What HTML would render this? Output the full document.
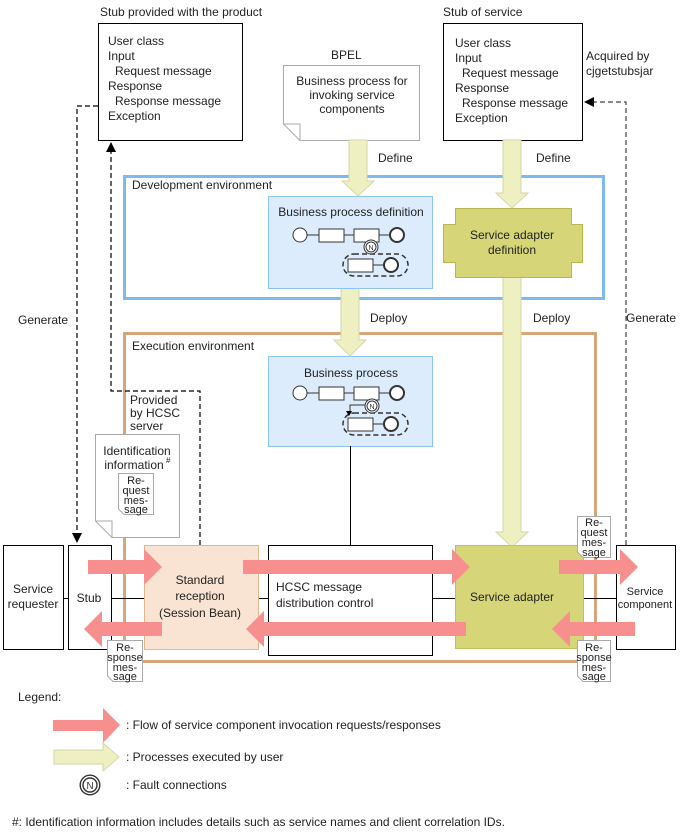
<!DOCTYPE html>
<html><head><meta charset="utf-8"><style>
body{margin:0;background:#fff}
svg{display:block;font-family:"Liberation Sans",Arial,sans-serif;font-size:12px;fill:#222}
</style></head><body>
<svg width="681" height="833" viewBox="0 0 681 833" xmlns="http://www.w3.org/2000/svg">
<defs>
<marker id="ah" markerWidth="10" markerHeight="10" refX="9" refY="5" orient="auto" markerUnits="userSpaceOnUse"><path d="M0,0 L10,5 L0,10 z" fill="#000"/></marker>
<g id="fault"><circle r="7" fill="#fff" stroke="#333" stroke-width="1"/><circle r="5" fill="none" stroke="#333" stroke-width="1"/><text x="0" y="3" font-size="7" text-anchor="middle" fill="#333">N</text></g>
</defs>

<!-- top titles -->
<text x="100" y="16">Stub provided with the product</text>
<text x="443" y="16">Stub of service</text>
<rect x="98.5" y="23.5" width="144" height="117" fill="#fff" stroke="#000"/>
<text x="108" y="45">User class</text><text x="108" y="60">Input</text><text x="115" y="75">Request message</text><text x="108" y="90">Response</text><text x="115" y="105">Response message</text><text x="108" y="120">Exception</text>
<rect x="443.5" y="23.5" width="139" height="117" fill="#fff" stroke="#000"/>
<text x="455" y="47">User class</text><text x="455" y="62">Input</text><text x="462" y="77">Request message</text><text x="455" y="92">Response</text><text x="462" y="107">Response message</text><text x="455" y="122">Exception</text>
<text x="586" y="60">Acquired by</text><text x="586" y="75">cjgetstubsjar</text>

<!-- BPEL -->
<text x="331" y="59">BPEL</text>
<path d="M283.5,65.5 H419.5 V140.5 H300 L283.5,124 Z" fill="#fff" stroke="#aaa"/>
<path d="M283.5,124 L300,124 L300,140.5" fill="none" stroke="#aaa"/>
<text x="352" y="85" text-anchor="middle">Business process for</text>
<text x="352" y="99" text-anchor="middle">invoking service</text>
<text x="352" y="113" text-anchor="middle">components</text>

<!-- Dev env -->
<rect x="124.5" y="176.5" width="479" height="122" fill="none" stroke="#80b8f0" stroke-width="3"/>
<text x="132" y="189">Development environment</text>

<!-- Exec env -->
<rect x="124.5" y="333.5" width="471" height="328" fill="none" stroke="#d4a67a" stroke-width="3"/>
<text x="132" y="350">Execution environment</text>

<!-- cream arrows -->
<g fill="#eff0c2" stroke="#d6d6a6">
<path d="M349,140 H367 V181 H374 L358,196 L342,181 H349 Z"/>
<path d="M503,140 H521 V193 H528 L512,208 L496,193 H503 Z"/>
<path d="M341,288 H359 V340 H366 L350,356 L334,340 H341 Z"/>
<path d="M503,277 H521 V532 H528 L512,547 L496,532 H503 Z"/>
</g>
<text x="378" y="162">Define</text>
<text x="536" y="162">Define</text>
<text x="370" y="322">Deploy</text>
<text x="533" y="322">Deploy</text>

<!-- BP definition -->
<rect x="268.5" y="196.5" width="164" height="92" fill="#dcecfc" stroke="#8ec4f0"/>
<text x="351" y="216" text-anchor="middle">Business process definition</text>
<g stroke="#333" fill="#fff">
<line x1="307" y1="235" x2="394" y2="235"/>
<circle cx="300" cy="235" r="7"/>
<rect x="319" y="229" width="25" height="13"/>
<rect x="354" y="229" width="25" height="13"/>
<circle cx="397" cy="235" r="7" stroke-width="2"/>
<rect x="343" y="254" width="65" height="22" rx="11" fill="none" stroke-dasharray="5,3" stroke-width="1.5"/>
<line x1="373" y1="265" x2="388" y2="265"/>
<rect x="348" y="259" width="25" height="13"/>
<circle cx="391" cy="265" r="7" stroke-width="2"/>
</g>
<use href="#fault" x="371" y="247"/>

<!-- Service adapter definition -->
<path d="M455.5,208.5 H571.5 V224.5 H582.5 V262.5 H571.5 V277.5 H455.5 V262.5 H443.5 V224.5 H455.5 Z" fill="#d6d678" stroke="#b8b850"/>
<text x="512" y="239" text-anchor="middle">Service adapter</text>
<text x="512" y="254" text-anchor="middle">definition</text>

<!-- Business process -->
<rect x="268.5" y="356.5" width="164" height="90" fill="#dcecfc" stroke="#8ec4f0"/>
<text x="351" y="377" text-anchor="middle">Business process</text>
<g stroke="#333" fill="#fff">
<line x1="307" y1="393" x2="394" y2="393"/>
<circle cx="300" cy="393" r="7"/>
<rect x="319" y="387" width="25" height="13"/>
<rect x="354" y="387" width="25" height="13"/>
<circle cx="397" cy="393" r="7" stroke-width="2"/>
<rect x="343" y="413" width="65" height="22" rx="11" fill="none" stroke-dasharray="5,3" stroke-width="1.5"/>
<line x1="373" y1="424" x2="388" y2="424"/>
<rect x="348" y="418" width="25" height="13"/>
<circle cx="391" cy="424" r="7" stroke-width="2"/>
<path d="M365,405 H350 V414" fill="none"/>
</g>
<path d="M346,411 L352,411 L349,416 Z" fill="#000"/>
<use href="#fault" x="372" y="406"/>

<!-- lines -->
<line x1="350.5" y1="446" x2="350.5" y2="545" stroke="#000"/>
<line x1="63" y1="598.5" x2="616" y2="598.5" stroke="#000"/>

<!-- dashed connectors -->
<g fill="none" stroke="#000" stroke-dasharray="5,3" stroke-width="1.2">
<path d="M98,106 H77 V542" marker-end="url(#ah)"/>
<path d="M200,545 V391 H111 V143" marker-end="url(#ah)"/>
<path d="M626,545 V102 H585" marker-end="url(#ah)" stroke="#444"/>
</g>
<text x="18" y="324">Generate</text>
<text x="626" y="322">Generate</text>
<text x="130" y="404">Provided</text><text x="130" y="417">by HCSC</text><text x="130" y="430">server</text>

<!-- Identification info -->
<path d="M95.5,434.5 H179.5 V537.5 H112 L95.5,521 Z" fill="#fff" stroke="#aaa"/>
<path d="M95.5,521 H112 V537.5" fill="none" stroke="#aaa"/>
<text x="137" y="455" text-anchor="middle">Identification</text>
<text x="134" y="469" text-anchor="middle">information</text><text x="166" y="463" font-size="8">#</text>
<path d="M118.5,473.5 H153.5 V514.5 H124 L118.5,509 Z" fill="#fff" stroke="#aaa"/>
<g font-size="11" text-anchor="middle"><text x="136" y="484">Re-</text><text x="136" y="494">quest</text><text x="136" y="504">mes-</text><text x="136" y="513">sage</text></g>

<!-- bottom boxes -->
<rect x="3.5" y="545.5" width="60" height="104" fill="#fff" stroke="#000"/>
<text x="33" y="593" text-anchor="middle">Service</text><text x="33" y="608" text-anchor="middle">requester</text>
<rect x="68.5" y="545.5" width="43" height="104" fill="#fff" stroke="#000"/>
<text x="89" y="602" text-anchor="middle">Stub</text>
<rect x="144.5" y="545.5" width="114" height="104" fill="#f9e4d3" stroke="#e0b88e"/>
<text x="200" y="584" text-anchor="middle">Standard</text><text x="200" y="600" text-anchor="middle">reception</text><text x="200" y="617" text-anchor="middle">(Session Bean)</text>
<rect x="268.5" y="545.5" width="164" height="110" fill="#fff" stroke="#000"/>
<text x="276" y="591">HCSC message</text><text x="276" y="607">distribution control</text>
<rect x="455.5" y="545.5" width="128" height="103" fill="#d6d678" stroke="#c0c060"/>
<text x="512" y="601" text-anchor="middle">Service adapter</text>
<rect x="616.5" y="545.5" width="59" height="104" fill="#fff" stroke="#000"/>
<text x="645" y="595" text-anchor="middle" font-size="11">Service</text><text x="645" y="608" text-anchor="middle" font-size="11">component</text>

<!-- pink arrows -->
<g fill="#f78f8f">
<path d="M88,560 H144 V549 L162,567 L144,585 V574 H88 Z"/>
<path d="M243,560 H452 V549 L470,567 L452,585 V574 H243 Z"/>
<path d="M559,560 H620 V549 L638,567 L620,585 V574 H559 Z"/>
<path d="M162,622 H102 V611 L84,629 L102,647 V636 H162 Z"/>
<path d="M466,622 H264 V611 L246,629 L264,647 V636 H466 Z"/>
<path d="M635,622 H570 V611 L552,629 L570,647 V636 H635 Z"/>
</g>

<!-- message docs -->
<g font-size="11" text-anchor="middle">
<path d="M577.5,516.5 H610.5 V557.5 H583 L577.5,552 Z" fill="#fff" stroke="#aaa"/>
<text x="594" y="526">Re-</text><text x="594" y="536">quest</text><text x="594" y="546">mes-</text><text x="594" y="556">sage</text>
<path d="M577.5,640.5 H610.5 V681.5 H583 L577.5,676 Z" fill="#fff" stroke="#aaa"/>
<text x="594" y="651">Re-</text><text x="594" y="661">sponse</text><text x="594" y="671">mes-</text><text x="594" y="680">sage</text>
<path d="M107.5,640.5 H142.5 V681.5 H113 L107.5,676 Z" fill="#fff" stroke="#aaa"/>
<text x="125" y="651">Re-</text><text x="125" y="661">sponse</text><text x="125" y="671">mes-</text><text x="125" y="680">sage</text>
</g>

<!-- legend -->
<text x="18" y="701">Legend:</text>
<path d="M53,720 H103 V708 L120,725 L103,743 V731 H53 Z" fill="#f78f8f"/>
<text x="126" y="729">: Flow of service component invocation requests/responses</text>
<path d="M54,750 H103 V743 L119,757 L103,771 V764 H54 Z" fill="#eff0c2" stroke="#d6d6a6"/>
<text x="126" y="761">: Processes executed by user</text>
<g transform="translate(90,785) scale(1.4)"><use href="#fault"/></g>
<text x="126" y="789">: Fault connections</text>
<text x="12" y="826">#: Identification information includes details such as service names and client correlation IDs.</text>
</svg>
</body></html>
